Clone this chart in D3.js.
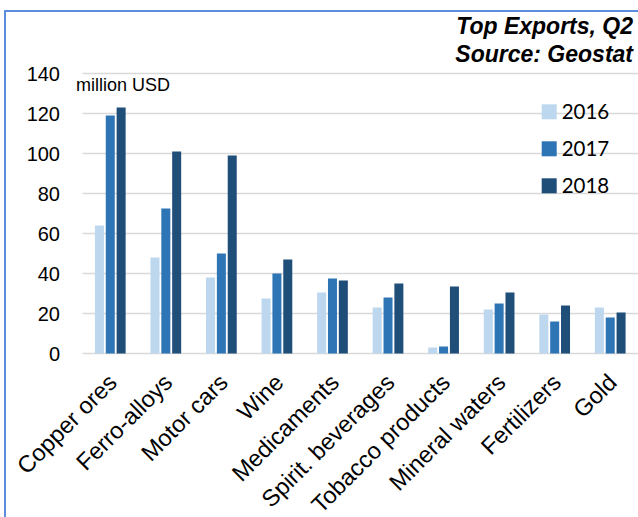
<!DOCTYPE html>
<html>
<head>
<meta charset="utf-8">
<script src="https://cdn.jsdelivr.net/npm/d3@7"></script>
<style>
  html, body { margin: 0; padding: 0; background: #fff; }
  svg { display: block; }
</style>
</head>
<body>
<svg id="chart" width="638" height="517"></svg>
<script>
const categories = ["Copper ores", "Ferro-alloys", "Motor cars", "Wine", "Medicaments",
  "Spirit. beverages", "Tobacco products", "Mineral waters", "Fertilizers", "Gold"];
const seriesNames = ["2016", "2017", "2018"];
const values2016 = [64, 48, 38, 27.5, 30.5, 23, 3, 22, 19.5, 23];
const values2017 = [119, 72.5, 50, 40, 37.5, 28, 3.5, 25, 16, 18];
const values2018 = [123, 101, 99, 47, 36.5, 35, 33.5, 30.5, 24, 20.5];
const yTicks = [0, 20, 40, 60, 80, 100, 120, 140];
const titleLines = ["Top Exports, Q2", "Source: Geostat"];
const unitLabel = "million USD";

const seriesValues = [values2016, values2017, values2018];
const colors = ["#bdd7ee", "#2e75b6", "#1f4e79"];

const svg = d3.select("#chart");
const W = 638, H = 517;
const plotL = 82.5, plotR = 638, plotT = 73.5, plotB = 353.5;

// frame border (top + left)
svg.append("path")
  .attr("d", `M5,${H} L5,11 L${W},11`)
  .attr("fill", "none")
  .attr("stroke", "#5b8fde")
  .attr("stroke-width", 2);

const x0 = d3.scaleBand().domain(categories).range([plotL, plotR]).padding(0);
const x1 = d3.scaleBand().domain(seriesNames).range([0, x0.bandwidth()])
  .paddingInner(0.17).paddingOuter(1.145);
const y = d3.scaleLinear().domain([0, 140]).range([plotB, plotT]);
const color = d3.scaleOrdinal().domain(seriesNames).range(colors);

// gridlines
svg.append("g").selectAll("line").data(yTicks).join("line")
  .attr("x1", plotL).attr("x2", plotR)
  .attr("y1", d => y(d)).attr("y2", d => y(d))
  .attr("stroke", "#d9d9d9").attr("stroke-width", 1.6);

// y axis labels
const yAxis = d3.axisLeft(y).tickValues(yTicks).tickSize(0).tickPadding(0);
const yg = svg.append("g").attr("transform", "translate(60,0)").call(yAxis);
yg.select(".domain").remove();
yg.selectAll("text")
  .attr("font-family", "'Liberation Sans', Arial, sans-serif")
  .attr("font-size", 20)
  .attr("fill", "#000")
  .attr("dy", "0.36em");

// unit label
svg.append("text").attr("x", 76).attr("y", 90.5)
  .attr("font-family", "'Liberation Sans', Arial, sans-serif")
  .attr("font-size", 18).attr("fill", "#000").text(unitLabel);

// bars
const rows = categories.map((c, i) => ({ cat: c, vals: seriesNames.map((s, j) => ({ s, v: seriesValues[j][i] })) }));
const groups = svg.append("g").selectAll("g").data(rows).join("g")
  .attr("transform", d => `translate(${x0(d.cat)},0)`);
groups.selectAll("rect").data(d => d.vals).join("rect")
  .attr("x", d => x1(d.s))
  .attr("width", x1.bandwidth())
  .attr("y", d => y(d.v))
  .attr("height", d => y(0) - y(d.v))
  .attr("fill", d => color(d.s));

// x labels
const xg = svg.append("g");
xg.selectAll("text").data(categories).join("text")
  .attr("transform", d => `translate(${x0(d) + x0.bandwidth() / 2 + 8},384) rotate(-45)`)
  .attr("text-anchor", "end")
  .attr("font-family", "'Liberation Sans', Arial, sans-serif")
  .attr("font-size", 23.5)
  .attr("fill", "#000")
  .text(d => d);

// legend
const lg = svg.append("g").selectAll("g").data(seriesNames).join("g")
  .attr("transform", (d, i) => `translate(541.7,${104.3 + i * 37})`);
lg.append("rect").attr("width", 15).attr("height", 15).attr("fill", d => color(d));
lg.append("text").attr("x", 20).attr("y", 15)
  .attr("font-family", "Lato, 'Open Sans', sans-serif")
  .attr("font-size", 20.5).attr("fill", "#000").text(d => d);

// title
svg.append("g").selectAll("text").data(titleLines).join("text")
  .attr("x", 633).attr("y", (d, i) => 34 + i * 28)
  .attr("text-anchor", "end")
  .attr("font-family", "'Liberation Sans', Arial, sans-serif")
  .attr("font-size", 23).attr("font-weight", "bold").attr("font-style", "italic")
  .attr("fill", "#000")
  .text(d => d);
</script>
</body>
</html>
